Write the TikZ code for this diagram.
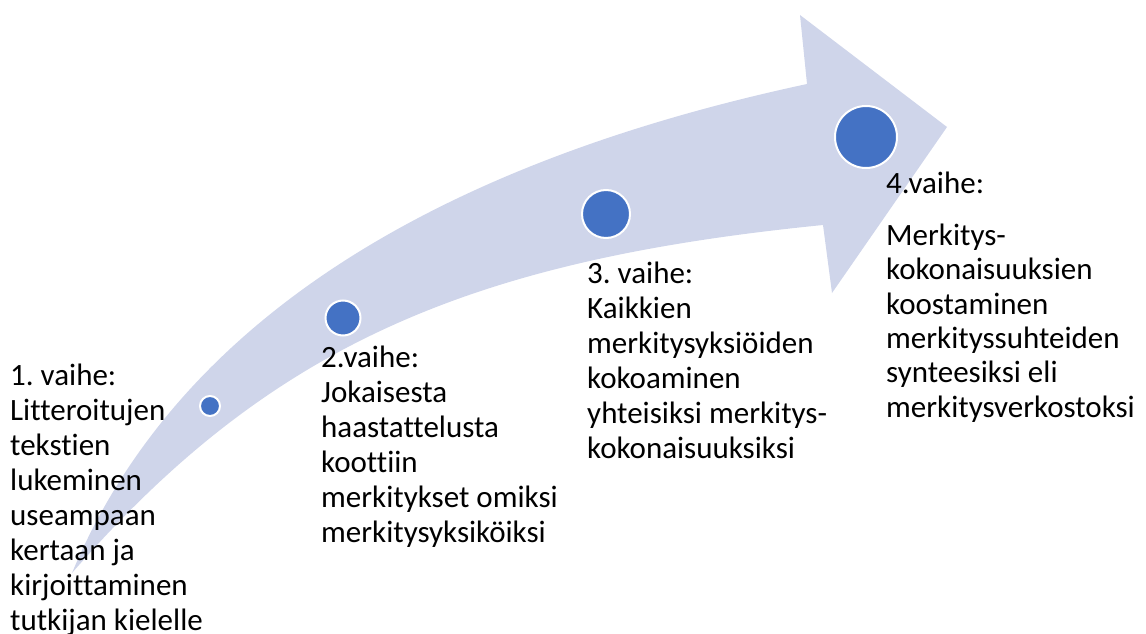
\documentclass[tikz,border=0pt]{standalone}
\usepackage{fontspec}
\setmainfont{Carlito}[Ligatures={NoCommon}]
\frenchspacing
\definecolor{arrowfill}{HTML}{CFD5EA}
\definecolor{dotblue}{HTML}{4472C4}
\begin{document}
\begin{tikzpicture}[x=1pt,y=-1pt,
  stagedot/.style={circle,fill=dotblue,draw=white,line width=2pt,inner sep=0pt,minimum size=#1},
  stagetext/.style={anchor=base west,inner sep=0pt,align=left,font=\fontsize{31}{35}\selectfont}]
\useasboundingbox (0,0) rectangle (1146,634);
% curved progress arrow
\fill[arrowfill] (72,573) .. controls (182,309) and (457,159) .. (807,84)
  -- (800,15) -- (947,127) -- (832,293) -- (823,225)
  .. controls (473,260) and (272,343) .. (72,573) -- cycle;
% stage markers
\node[stagedot=20pt] (d1) at (210,406) {};
\node[stagedot=35pt] (d2) at (343,318) {};
\node[stagedot=48pt] (d3) at (606,214) {};
\node[stagedot=62pt] (d4) at (866,137) {};
% stage descriptions (anchored at the baseline of the last line)
\node[stagetext] (s1) at (10,630) {1. vaihe:\\Litteroitujen\\tekstien\\lukeminen\\useampaan\\kertaan ja\\kirjoittaminen\\tutkijan kielelle};
\node[stagetext] (s2) at (321,542) {2.vaihe:\\Jokaisesta\\haastattelusta\\koottiin\\merkitykset omiksi\\merkitysyksiköiksi};
\node[stagetext] (s3) at (587,458) {3. vaihe:\\Kaikkien\\merkitysyksiöiden\\kokoaminen\\yhteisiksi merkitys-\\kokonaisuuksiksi};
\node[stagetext,font=\fontsize{31}{34.3}\selectfont] (s4) at (886,417) {4.vaihe:\\[18pt]Merkitys-\\kokonaisuuksien\\koostaminen\\merkityssuhteiden\\synteesiksi eli\\merkitysverkostoksi};
\end{tikzpicture}
\end{document}
